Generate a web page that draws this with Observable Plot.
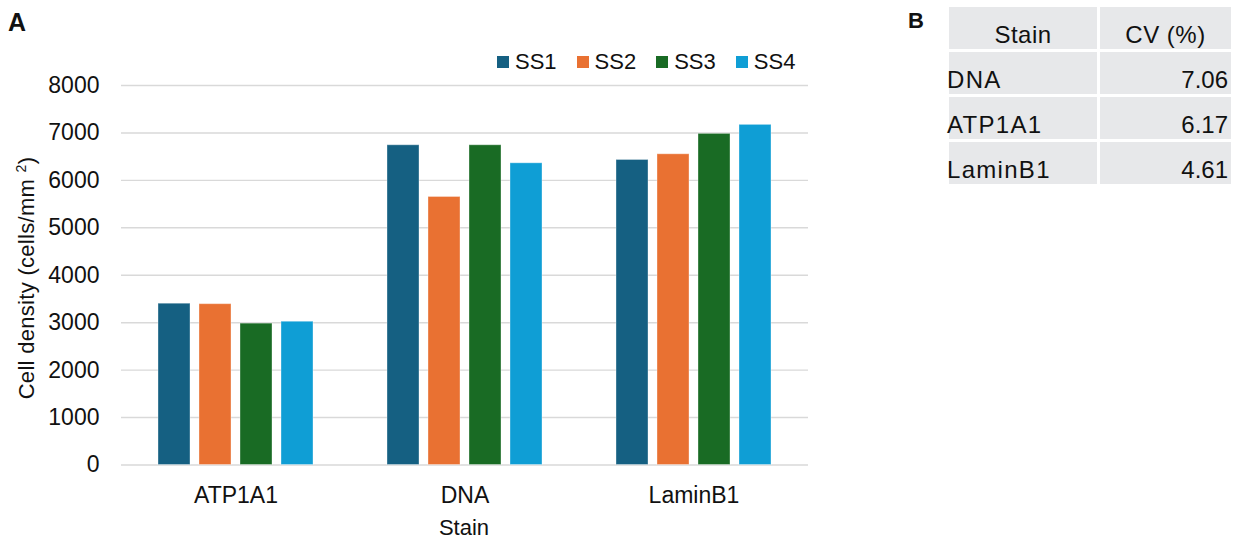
<!DOCTYPE html>
<html>
<head>
<meta charset="utf-8">
<script src="https://cdn.jsdelivr.net/npm/d3@7"></script>
<script src="https://cdn.jsdelivr.net/npm/@observablehq/plot@0.6"></script>
<style>
  html, body { margin: 0; padding: 0; background: #fff; }
  body { width: 1242px; height: 540px; position: relative; overflow: hidden;
         font-family: "Liberation Sans", Arial, sans-serif; color: #111; }
  #chart { position: absolute; left: 0; top: 0; }
  .abs { position: absolute; white-space: nowrap; }
  .panel { font-weight: bold; }
  #legend { position: absolute; left: 497px; top: 45px; }
  #legend .lg-swatches { font-family: "Liberation Sans", Arial, sans-serif; font-size: 22px; line-height: 25px; color: #111; margin: 0; }
  #legend .lg-swatch { margin-right: 20px; }
  #legend .lg-swatch > svg { margin-right: 6px; }
  #cvtable { position: absolute; left: 949px; top: 7px; display: grid;
             grid-template-columns: 148px 131px; grid-auto-rows: 42px; gap: 3px;
             font-size: 24px; }
  #cvtable div { background: #e7e8ea; box-sizing: border-box; padding-top: 7px; line-height: 42px; white-space: nowrap; }
  #cvtable .hd { text-align: center; letter-spacing: 0.5px; }
  #cvtable .c1 { text-indent: -2px; letter-spacing: 1.3px; }
  #cvtable .c2 { text-align: right; padding-right: 3px; }
</style>
</head>
<body>
<div id="chart"></div>
<div id="legend"></div>
<div id="cvtable"></div>
<script>
// ---- data ----
const stains = ["ATP1A1", "DNA", "LaminB1"];
const series = ["SS1", "SS2", "SS3", "SS4"];
const ss1 = [3400, 6740, 6430];
const ss2 = [3390, 5650, 6550];
const ss3 = [2980, 6740, 6980];
const ss4 = [3020, 6360, 7170];
const seriesColors = ["#156082", "#E97132", "#196B24", "#0F9ED5"];
const yTicks = [0, 1000, 2000, 3000, 4000, 5000, 6000, 7000, 8000];
const cvHeader = ["Stain", "CV (%)"];
const cvStains = ["DNA", "ATP1A1", "LaminB1"];
const cvValues = ["7.06", "6.17", "4.61"];

const seriesValues = [ss1, ss2, ss3, ss4];
const data = stains.flatMap((s, i) =>
  seriesValues.map((arr, j) => ({stain: s, series: series[j], value: arr[i]})));

const chart = Plot.plot({
  width: 830,
  height: 540,
  marginLeft: 120,
  marginRight: 21,
  marginTop: 85,
  marginBottom: 75.5,
  style: {fontFamily: "'Liberation Sans', Arial, sans-serif", fontSize: "22px", color: "#111", background: "white"},
  fx: {domain: stains, padding: 0, label: null},
  x: {domain: series, paddingInner: 0.226, paddingOuter: 0.847, axis: null},
  y: {domain: [0, 8000], label: null},
  color: {domain: series, range: seriesColors},
  marks: [
    Plot.gridY(yTicks, {stroke: "#d9d9d9", strokeOpacity: 1, strokeWidth: 1.4}),
    Plot.barY(data, {fx: "stain", x: "series", y: "value", fill: "series",
                     stroke: "white", strokeOpacity: 0.35, strokeWidth: 1}),
    Plot.axisY(yTicks, {tickSize: 0, tickPadding: 22, label: null, fontSize: 23, tickFormat: d => String(d)}),
    Plot.axisFx({anchor: "bottom", tickSize: 0, tickPadding: 22, label: null, fontSize: 23})
  ]
});
document.getElementById("chart").append(chart);

// legend
const lg = Plot.legend({color: {domain: series, range: seriesColors}, swatchSize: 12, className: "lg"});
document.getElementById("legend").append(lg);

// extra texts
function addText(html, style, cls) {
  const d = document.createElement("div");
  d.className = "abs " + (cls || "");
  d.innerHTML = html;
  Object.assign(d.style, style);
  document.body.append(d);
  return d;
}
addText("A", {left: "8px", top: "10px", fontSize: "25px", lineHeight: "25px"}, "panel");
addText("B", {left: "908px", top: "10px", fontSize: "22px", lineHeight: "22px"}, "panel");
addText("Stain", {left: "364px", width: "200px", textAlign: "center", top: "517px", fontSize: "22px", lineHeight: "22px"});
addText("Cell density (cells/mm <sup style='font-size:14px;vertical-align:8px;line-height:0'>2</sup>)",
  {left: (27 - 160) + "px", width: "320px", textAlign: "center", top: (278 - 12) + "px",
   fontSize: "22px", lineHeight: "24px", transform: "rotate(-90deg)", transformOrigin: "50% 50%", letterSpacing: "0.3px"});

// table
const tbl = d3.select("#cvtable");
tbl.append("div").attr("class", "hd").text(cvHeader[0]);
tbl.append("div").attr("class", "hd").text(cvHeader[1]);
cvStains.forEach((s, i) => {
  tbl.append("div").attr("class", "c1").text(s);
  tbl.append("div").attr("class", "c2").text(cvValues[i]);
});
</script>
</body>
</html>
